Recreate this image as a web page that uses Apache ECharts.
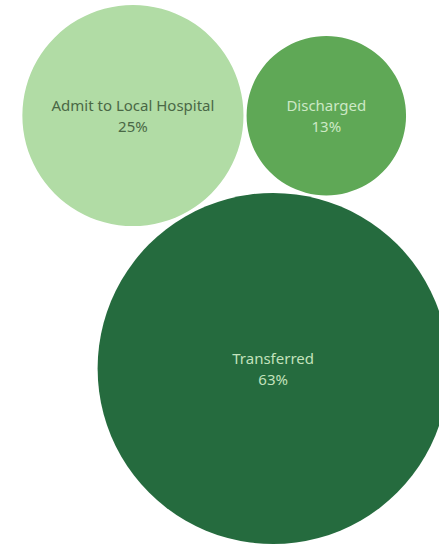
<!DOCTYPE html>
<html>
<head>
<meta charset="utf-8">
<script src="https://cdn.jsdelivr.net/npm/echarts@6/dist/echarts.min.js"></script>
<style>
  html, body { margin: 0; padding: 0; background: #ffffff; overflow: hidden; }
  #chart { width: 439px; height: 547px; }
</style>
</head>
<body>
<div id="chart"></div>
<script>
// Disposition shares (percent of patients)
const categories = ['Admit to Local Hospital', 'Discharged', 'Transferred'];
const shares = [25, 13, 63];
const fills = ['#b1dca5', '#5fa856', '#256b3e'];
const labelColors = ['#4a6846', '#cce8c5', '#c2e2bc'];

// Packed-bubble layout: bubble area follows the share, the largest bubble
// anchors the pack and the others sit tangent to it and to each other.
const orientationDeg = 119;   // direction from the largest bubble to the second one
const gap = 0.14;             // spacing between bubbles, in radius units

function pack(values) {
  const r = values.map(v => Math.sqrt(v));
  const order = r.map((_, i) => i).sort((a, b) => r[b] - r[a]);
  const [a, b, c] = order;
  const pos = [];
  pos[a] = [0, 0];
  const t = orientationDeg * Math.PI / 180;
  const dab = r[a] + r[b] + gap;
  pos[b] = [dab * Math.cos(t), dab * Math.sin(t)];
  const dac = r[a] + r[c] + gap;
  const dbc = r[b] + r[c] + gap;
  const angA = Math.acos((dab * dab + dac * dac - dbc * dbc) / (2 * dab * dac));
  const t2 = t - angA;
  pos[c] = [dac * Math.cos(t2), dac * Math.sin(t2)];
  return values.map((v, i) => [pos[i][0], pos[i][1], r[i]]);
}

const packed = pack(shares);

// Fit the pack into the plotting box with an equal scale on both axes;
// the box runs slightly past the right edge so the big bubble is cropped there.
const box = { left: 21, top: 5, width: 429, height: 539 };
let x0 = Infinity, x1 = -Infinity, y0 = Infinity, y1 = -Infinity;
packed.forEach(([x, y, r]) => {
  x0 = Math.min(x0, x - r); x1 = Math.max(x1, x + r);
  y0 = Math.min(y0, y - r); y1 = Math.max(y1, y + r);
});
const scale = Math.min(box.width / (x1 - x0), box.height / (y1 - y0));
const spanX = box.width / scale, spanY = box.height / scale;
const cx = (x0 + x1) / 2, cy = (y0 + y1) / 2;

const chart = echarts.init(document.getElementById('chart'), null, { renderer: 'svg' });
chart.setOption({
  animation: false,
  backgroundColor: '#ffffff',
  grid: {
    left: box.left, top: box.top, width: box.width, height: box.height,
    outerBoundsMode: 'none'
  },
  xAxis: { type: 'value', min: cx - spanX / 2, max: cx + spanX / 2, show: false },
  yAxis: { type: 'value', min: cy - spanY / 2, max: cy + spanY / 2, show: false },
  series: [{
    type: 'custom',
    coordinateSystem: 'cartesian2d',
    clip: false,
    data: packed.map((p, i) => [p[0], p[1], p[2], shares[i]]),
    renderItem(params, api) {
      const i = params.dataIndex;
      const c = api.coord([api.value(0), api.value(1)]);
      const rad = api.size([api.value(2), 0])[0];
      return {
        type: 'group',
        children: [
          {
            type: 'circle',
            shape: { cx: c[0], cy: c[1], r: rad },
            style: { fill: fills[i] }
          },
          {
            type: 'text',
            style: {
              text: categories[i] + '\n' + api.value(3) + '%',
              x: c[0],
              y: c[1],
              align: 'center',
              verticalAlign: 'middle',
              fill: labelColors[i],
              fontFamily: '"Noto Sans", sans-serif',
              fontSize: 15,
              lineHeight: 21
            }
          }
        ]
      };
    }
  }]
});
</script>
</body>
</html>
